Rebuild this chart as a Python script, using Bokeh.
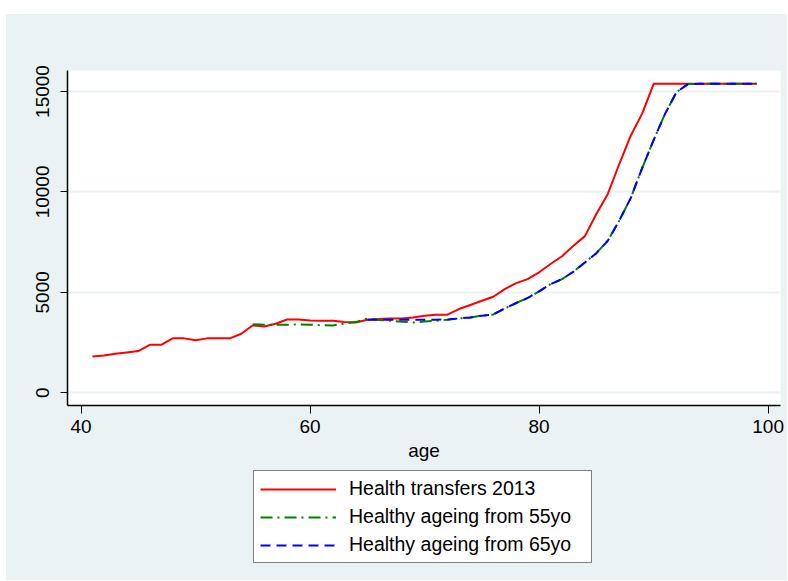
from bokeh.plotting import figure
from bokeh.models import Legend, LegendItem, Spacer, FixedTicker, Range1d
from bokeh.layouts import column, row
from bokeh.embed import file_html
from bokeh.resources import INLINE

# data
ages = list(range(41, 100))
transfers_2013 = [1810, 1860, 1940, 2010, 2080, 2390, 2390, 2710, 2710, 2620,
                  2710, 2710, 2710, 2940, 3360, 3300, 3440, 3650, 3650, 3600,
                  3590, 3590, 3530, 3500, 3640, 3680, 3700, 3700, 3750, 3840,
                  3890, 3890, 4170, 4370, 4580, 4780, 5160, 5460, 5660, 6000,
                  6410, 6800, 7320, 7800, 8900, 9900, 11390, 12800, 13900, 15380,
                  15380, 15380, 15380, 15380, 15380, 15380, 15380, 15380, 15380]

ages_55 = list(range(55, 100))
healthy_55 = [3410, 3390, 3390, 3390, 3400, 3390, 3360, 3350, 3450, 3520,
              3700, 3620, 3590, 3540, 3500, 3550, 3590, 3640, 3700, 3750,
              3840, 3900, 4200, 4470, 4720, 5050, 5410, 5660, 6030, 6490,
              6950, 7570, 8570, 9690, 11190, 12580, 13890, 14970, 15370,
              15380, 15380, 15380, 15380, 15380, 15380]

ages_65 = list(range(65, 100))
healthy_65 = [3640, 3640, 3640, 3640, 3640, 3640, 3640, 3650, 3700, 3750,
              3840, 3900, 4200, 4470, 4720, 5050, 5410, 5660, 6030, 6490,
              6950, 7570, 8570, 9690, 11190, 12580, 13890, 14970, 15370,
              15380, 15380, 15380, 15380, 15380, 15380]

x_ticks = [40, 60, 80, 100]
y_ticks = [0, 5000, 10000, 15000]
labels = ["Health transfers 2013", "Healthy ageing from 55yo", "Healthy ageing from 65yo"]

bg = "#EAF2F3"
font = "Liberation Sans"
styles = [dict(line_color="#FF0000", line_width=2),
          dict(line_color="#008000", line_width=2, line_dash="12 5 2 5"),
          dict(line_color="#0000FF", line_width=2, line_dash="10 6")]
series = [(ages, transfers_2013), (ages_55, healthy_55), (ages_65, healthy_65)]

# main chart
p = figure(width=781, height=454, output_backend="svg", toolbar_location=None,
           x_range=Range1d(38.82, 101.08), y_range=Range1d(-632, 16045),
           min_border_left=61, min_border_right=7, min_border_top=56, min_border_bottom=63)
p.border_fill_color = bg
p.background_fill_color = "white"
p.outline_line_color = None

for (xs, ys), st in zip(series, styles):
    p.line(xs, ys, **st)

p.xaxis.ticker = FixedTicker(ticks=x_ticks)
p.yaxis.ticker = FixedTicker(ticks=y_ticks)
for ax in (p.xaxis, p.yaxis):
    ax.axis_line_color = "black"
    ax.axis_line_width = 1.5
    ax.major_tick_line_color = "black"
    ax.major_tick_in = 0
    ax.minor_tick_line_color = None
    ax.major_label_text_font = font
    ax.major_label_text_font_size = "19px"
    ax.major_label_text_color = "black"
p.xaxis.major_tick_out = 8
p.yaxis.major_tick_out = 7
p.yaxis.major_label_orientation = "vertical"
p.yaxis.major_label_standoff = 11
p.xaxis.major_label_standoff = 6
p.xaxis.axis_label = "age"
p.xaxis.axis_label_text_font = font
p.xaxis.axis_label_text_font_size = "19px"
p.xaxis.axis_label_text_font_style = "normal"
p.xaxis.axis_label_text_color = "black"
p.xaxis.axis_label_standoff = 4

p.xgrid.visible = False
p.ygrid.ticker = FixedTicker(ticks=y_ticks)
p.ygrid.grid_line_color = bg
p.ygrid.grid_line_width = 2

# legend strip below (own figure so the box is not clipped by the chart frame)
lg = figure(width=781, height=112, output_backend="svg", toolbar_location=None,
            x_range=Range1d(0, 1), y_range=Range1d(0, 1),
            x_axis_location=None, y_axis_location=None,
            min_border_left=0, min_border_right=0, min_border_top=0, min_border_bottom=0)
lg.border_fill_color = bg
lg.background_fill_color = bg
lg.outline_line_color = None
lg.grid.visible = False

items = []
for (xs, ys), st, lab in zip(series, styles, labels):
    r = lg.line(xs, ys, **st)
    items.append(LegendItem(label=lab, renderers=[r]))

# frame of this strip lines up with the chart frame, so x is from the chart's left axis
legend = Legend(items=items, location=(186, 17), orientation="vertical")
legend.label_text_font = font
legend.label_text_font_size = "19.5px"
legend.label_text_color = "black"
legend.glyph_width = 76
legend.glyph_height = 20
legend.label_height = 20
legend.label_width = 236
legend.label_standoff = 13
legend.spacing = 5
legend.padding = 6
legend.margin = 0
legend.border_line_color = "black"
legend.border_line_width = 1
legend.background_fill_color = "white"
legend.background_fill_alpha = 1
lg.add_layout(legend)

inner = column(p, lg, styles={"background-color": bg})
layout = column(Spacer(height=14), row(Spacer(width=6), inner))
open("out.html", "w").write(file_html(layout, INLINE))
